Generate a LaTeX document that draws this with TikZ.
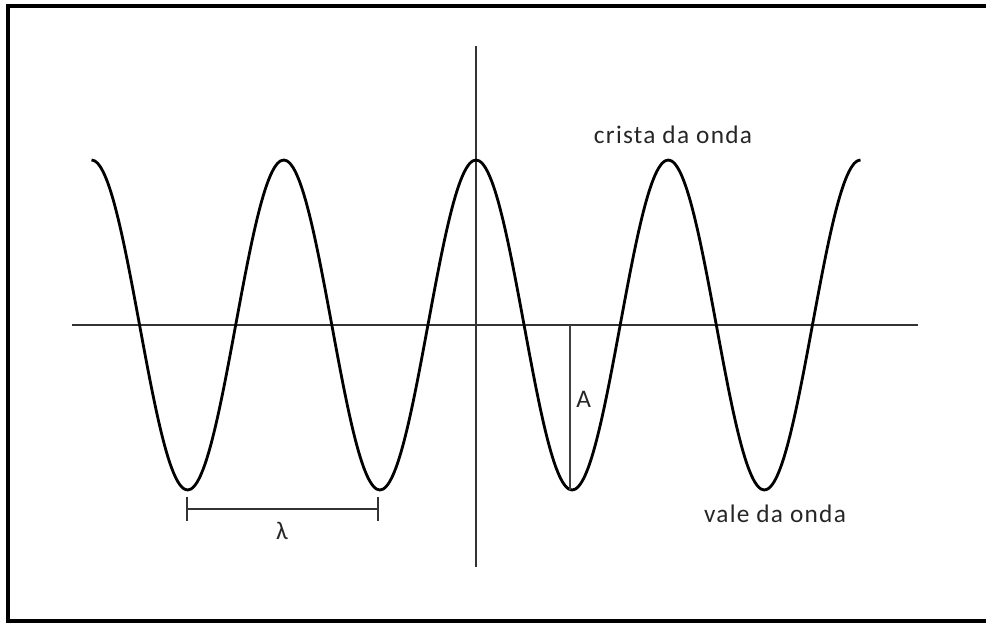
\documentclass[tikz,border=0pt]{standalone}
\usepackage{fontspec}
\setmainfont{Carlito}[LetterSpace=5]
\usepackage{tikz}

\begin{document}
\begin{tikzpicture}[x=0.025cm,y=-0.025cm,
  wave/.style={line width=2pt,black},
  axis/.style={line width=1.1pt,black!80},
  label/.style={text=black!85,font=\fontsize{18}{21}\selectfont,inner sep=0pt}]
\useasboundingbox (0,0) rectangle (986,623);
% frame, cut off at the right
\draw[line width=2.6pt] (986,6) -- (8,6) -- (8,621) -- (986,621);
% axes
\coordinate (xl) at (72,325);
\coordinate (xr) at (918,325);
\coordinate (yt) at (476,46);
\coordinate (yb) at (476,567);
\draw[axis] (xl) -- (xr);
\draw[axis] (yt) -- (yb);
% the wave
\draw[wave] plot[domain=91.5:860.5,samples=241,smooth] (\x,{325-165*cos((\x-476)/192.25*360)});
% amplitude
\coordinate (a0) at (570,325);
\coordinate (a1) at (570,490);
\draw[line width=0.8pt,black!75] (a0) -- (a1);
\node[label,anchor=west] (amp) at (576,399) {A};
% wavelength
\coordinate (l1) at (187,509);
\coordinate (l2) at (378,509);
\draw[line width=1.1pt,black!80] (l1) -- (l2);
\draw[line width=1.1pt,black!80] (l1) ++(0,-12) -- ++(0,24);
\draw[line width=1.1pt,black!80] (l2) ++(0,-12) -- ++(0,24);
\node[label] (lam) at (282,531) {λ};
% labels
\node[label] (crista) at (673,135) {crista da onda};
\node[label] (vale) at (775,514) {vale da onda};
\end{tikzpicture}
\end{document}
